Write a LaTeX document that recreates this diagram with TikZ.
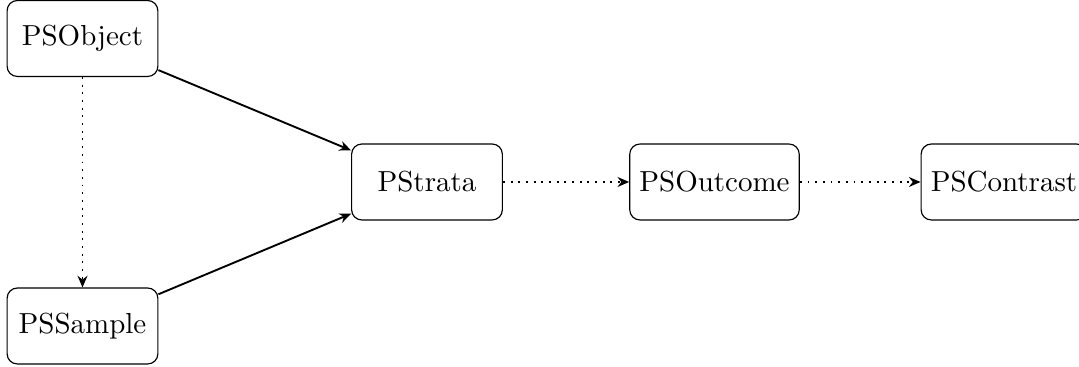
\documentclass[tikz,border=0pt]{standalone}
\usetikzlibrary{arrows.meta}
\begin{document}
\begin{tikzpicture}[x=0.345pt,y=-0.345pt,
  box/.style={draw, rounded corners=3.5pt, minimum width=52pt, minimum height=26.2pt, inner sep=3.33pt},
  solidarrow/.style={line width=0.65pt, -{Stealth[length=4pt,width=3.4pt]}},
  dotarrow/.style={line width=0.65pt, dotted, -{Stealth[length=4pt,width=3.4pt]}}]
\useasboundingbox (0,0) rectangle (1079,367);
\node[box] (obj) at (82.5,38.5) {PSObject};
\node[box] (samp) at (82.5,326) {PSSample};
\node[box] (strata) at (427,182) {PStrata};
\node[box] (out) at (714.5,182) {PSOutcome};
\node[box] (con) at (1004,182) {PSContrast};
\draw[solidarrow] (obj) -- (strata);
\draw[solidarrow] (samp) -- (strata);
\draw[dotarrow] (obj) -- (samp);
\draw[dotarrow] (strata) -- (out);
\draw[dotarrow] (out) -- (con);
\end{tikzpicture}
\end{document}
